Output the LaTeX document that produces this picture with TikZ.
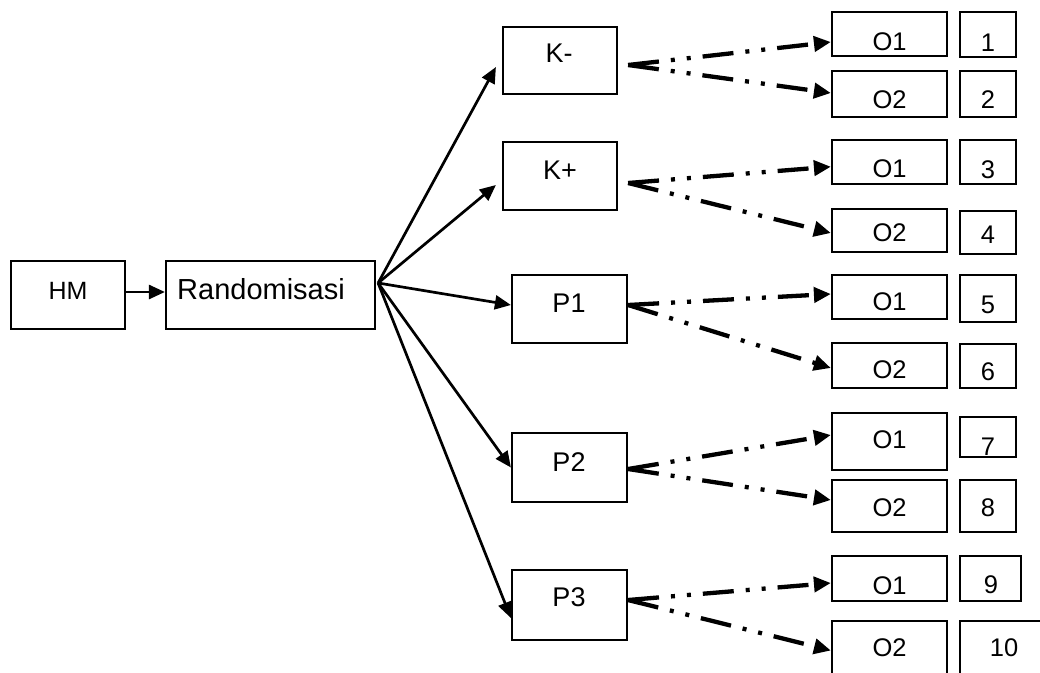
\documentclass[tikz,border=0pt]{standalone}
\usepackage{fontspec}
\setmainfont{Liberation Sans}
\usetikzlibrary{arrows.meta,fit}
\tikzset{
  box/.style={draw, line width=2.2pt, inner sep=0pt},
  lbl/.style={inner sep=0pt, anchor=base},
  big/.style={font={\fontsize{29}{32}\selectfont}},
  mid/.style={font={\fontsize{27}{30}\selectfont}},
  sml/.style={font={\fontsize{25.5}{28}\selectfont}},
  hmf/.style={font={\fontsize{25}{28}\selectfont}},
  solidarr/.style={line width=2.7pt, -{Triangle[length=16pt,width=14pt]}},
  dda/.style={line width=4.3pt, dash pattern=on 31pt off 12pt on 4pt off 12pt on 4pt off 12pt,
              -{Triangle[length=17pt,width=15pt]}},
}
\newcommand{\bx}[5]{\node[box, fit={(#2,#3) (#4,#5)}] (#1) {};}
\begin{document}
\begin{tikzpicture}[x=1pt,y=-1pt]
\fill[white] (0,0) rectangle (1040,672);
\useasboundingbox (0,0) rectangle (1040,672);
% main boxes
\bx{HM}{11}{261}{125}{329}
\bx{R}{166}{261}{375}{329}
\bx{Km}{503}{27}{617}{94}
\bx{Kp}{503}{142}{617}{210}
\bx{P1}{512}{275}{627}{343}
\bx{P2}{512}{433}{627}{502}
\bx{P3}{512}{570}{627}{640}
% O boxes
\bx{a1}{832}{12}{947}{56}
\bx{a2}{832}{71}{947}{117}
\bx{a3}{832}{140}{947}{184}
\bx{a4}{832}{209}{947}{252}
\bx{a5}{832}{275}{947}{319}
\bx{a6}{832}{343}{947}{388}
\bx{a7}{832}{413}{947}{470}
\bx{a8}{832}{480}{947}{532}
\bx{a9}{832}{556}{947}{601}
\bx{a10}{832}{621}{947}{700}
% number boxes
\bx{n1}{960}{12}{1016}{57}
\bx{n2}{960}{71}{1016}{117}
\bx{n3}{960}{140}{1016}{184}
\bx{n4}{960}{211}{1016}{254}
\bx{n5}{960}{275}{1016}{322}
\bx{n6}{960}{344}{1016}{388}
\bx{n7}{960}{417}{1016}{457}
\bx{n8}{960}{480}{1016}{532}
\bx{n9}{960}{556}{1021}{601}
\bx{n10}{960}{621}{1060}{700}
% labels
\node[lbl,hmf] (tHM) at (68,299) {HM};
\node[lbl,big,anchor=base west] (tR) at (177,299) {Randomisasi};
\node[lbl,mid] (tKm) at (559,62) {K-};
\node[lbl,mid] (tKp) at (560,179) {K+};
\node[lbl,mid] (tP1) at (569,312) {P1};
\node[lbl,mid] (tP2) at (569,471) {P2};
\node[lbl,mid] (tP3) at (569,606) {P3};
\node[lbl,sml] (ta1) at (889.5,50.5) {O1};
\node[lbl,sml] (ta2) at (889.5,108.5) {O2};
\node[lbl,sml] (ta3) at (889.5,177) {O1};
\node[lbl,sml] (ta4) at (889.5,241.5) {O2};
\node[lbl,sml] (ta5) at (889.5,310) {O1};
\node[lbl,sml] (ta6) at (889.5,378.5) {O2};
\node[lbl,sml] (ta7) at (889.5,448) {O1};
\node[lbl,sml] (ta8) at (889.5,516.5) {O2};
\node[lbl,sml] (ta9) at (889.5,594) {O1};
\node[lbl,sml] (ta10) at (889.5,656.5) {O2};
\node[lbl,sml] (tn1) at (988,51) {1};
\node[lbl,sml] (tn2) at (988,108) {2};
\node[lbl,sml] (tn3) at (988,178) {3};
\node[lbl,sml] (tn4) at (988,243) {4};
\node[lbl,sml] (tn5) at (988,313) {5};
\node[lbl,sml] (tn6) at (988,380) {6};
\node[lbl,sml] (tn7) at (988,455) {7};
\node[lbl,sml] (tn8) at (988,516.5) {8};
\node[lbl,sml] (tn9) at (991,593) {9};
\node[lbl,sml] (tn10) at (1004,656) {10};
% solid arrows
\draw[solidarr] ([yshift=3pt]HM.east) -- ([yshift=3pt]R.west);
\draw[solidarr] ([xshift=2pt,yshift=12pt]R.east) -- ([xshift=-6pt,yshift=-6.5pt]Km.west);
\draw[solidarr] ([xshift=2pt,yshift=12pt]R.east) -- ([xshift=-6pt,yshift=-9pt]Kp.west);
\draw[solidarr] ([xshift=2pt,yshift=12pt]R.east) -- ([yshift=4pt]P1.west);
\draw[solidarr] ([xshift=2pt,yshift=12pt]R.east) -- (P2.west);
\draw[solidarr] ([xshift=2pt,yshift=12pt]R.east) -- ([yshift=-13pt]P3.west);
% dash-dot-dot arrows
\draw[dda] ([xshift=10pt,yshift=-4.5pt]Km.east) -- ([yshift=-8pt]a1.west);
\draw[dda] ([xshift=10pt,yshift=-4.5pt]Km.east) -- ([yshift=1pt]a2.west);
\draw[dda] ([xshift=10pt,yshift=-7pt]Kp.east) -- ([yshift=-4.7pt]a3.west);
\draw[dda] ([xshift=10pt,yshift=-7pt]Kp.east) -- ([yshift=-2.5pt]a4.west);
\draw[dda] ([yshift=4pt]P1.east) -- ([yshift=3pt]a5.west);
\draw[dda] ([yshift=4pt]P1.east) -- ([yshift=-2.5pt]a6.west);
\draw[dda] ([yshift=-1.5pt]P2.east) -- ([yshift=6.5pt]a7.west);
\draw[dda] ([yshift=-1.5pt]P2.east) -- ([yshift=6pt]a8.west);
\draw[dda] ([yshift=5pt]P3.east) -- ([yshift=-4.5pt]a9.west);
\draw[dda] ([yshift=5pt]P3.east) -- ([yshift=10pt]a10.west);
\end{tikzpicture}
\end{document}
